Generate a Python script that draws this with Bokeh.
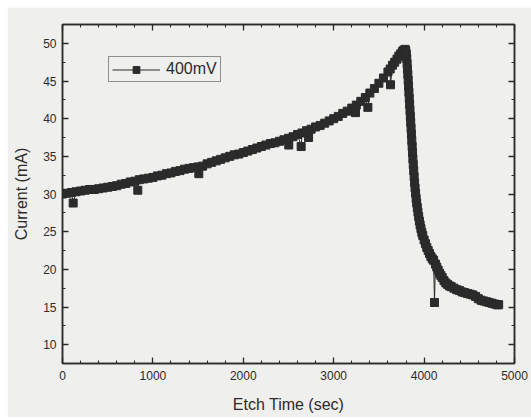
from bokeh.plotting import figure
from bokeh.models import (Range1d, SingleIntervalTicker, LinearAxis,
                          CustomJSTickFormatter, Legend, LegendItem)
from bokeh.embed import file_html
from bokeh.resources import INLINE

# ---- data (time in s, current in mA) ----
time_s = [0, 50, 100, 118, 150, 200, 250, 300, 350, 400, 450, 500, 550, 600, 650, 700, 750, 800,
          833, 850, 900, 950, 1000, 1050, 1100, 1150, 1200, 1250, 1300, 1350, 1400, 1450, 1500,
          1508, 1550, 1600, 1650, 1700, 1750, 1800, 1850, 1900, 1950, 2000, 2050, 2100, 2150,
          2200, 2250, 2300, 2350, 2400, 2450, 2500, 2503, 2550, 2600, 2640, 2650, 2700, 2722,
          2750, 2800, 2850, 2900, 2950, 3000, 3050, 3100, 3150, 3200, 3241, 3250, 3300, 3350,
          3378, 3400, 3450, 3500, 3550, 3600, 3625, 3628, 3650, 3675, 3700, 3720, 3740, 3760,
          3775, 3790, 3797, 3803, 3808, 3812, 3816, 3820, 3824, 3828, 3832, 3836, 3840, 3844,
          3848, 3852, 3856, 3860, 3864, 3868, 3872, 3876, 3880, 3885, 3890, 3895, 3900, 3906,
          3912, 3918, 3925, 3932, 3940, 3948, 3956, 3965, 3975, 3985, 4000, 4015, 4030, 4045,
          4060, 4075, 4090, 4105, 4115, 4125, 4140, 4155, 4170, 4185, 4200, 4220, 4240, 4260,
          4280, 4300, 4330, 4360, 4390, 4420, 4450, 4480, 4510, 4540, 4570, 4600, 4630, 4660,
          4690, 4720, 4750, 4780, 4810, 4825]
current_mA = [30.0, 30.1, 30.2, 28.8, 30.3, 30.4, 30.5, 30.6, 30.6, 30.7, 30.8, 30.9, 31.0, 31.1,
              31.3, 31.4, 31.6, 31.7, 30.5, 31.9, 32.0, 32.1, 32.2, 32.4, 32.5, 32.7, 32.8, 33.0,
              33.1, 33.3, 33.4, 33.5, 33.6, 32.7, 33.7, 34.0, 34.2, 34.4, 34.6, 34.8, 35.0, 35.2,
              35.3, 35.5, 35.7, 35.9, 36.1, 36.3, 36.5, 36.7, 36.8, 37.0, 37.2, 37.4, 36.5, 37.6,
              37.9, 36.3, 38.1, 38.4, 37.5, 38.6, 38.9, 39.1, 39.4, 39.7, 40.0, 40.3, 40.7, 41.0,
              41.4, 40.8, 41.8, 42.3, 42.8, 41.5, 43.4, 44.0, 44.7, 45.4, 46.2, 46.6, 44.5, 47.1,
              47.5, 47.9, 48.3, 48.6, 48.9, 49.1, 49.2, 49.0, 48.6, 48.0, 47.3, 46.6, 45.9, 45.1,
              44.3, 43.5, 42.7, 41.9, 41.1, 40.3, 39.5, 38.7, 37.9, 37.1, 36.3, 35.5, 34.7, 33.9,
              33.1, 32.3, 31.5, 30.8, 30.1, 29.4, 28.8, 28.2, 27.6, 27.0, 26.4, 25.9, 25.4, 24.9,
              24.5, 23.9, 23.4, 22.9, 22.5, 22.1, 21.7, 21.4, 21.2, 15.6, 20.7, 20.3, 19.9, 19.5,
              19.2, 18.9, 18.5, 18.2, 18.0, 17.8, 17.7, 17.5, 17.3, 17.2, 17.0, 16.9, 16.8, 16.7,
              16.6, 16.4, 16.1, 15.9, 15.8, 15.7, 15.6, 15.5, 15.4, 15.3, 15.3]
series_name = "400mV"
x_title = "Etch Time (sec)"
y_title = "Current (mA)"

PAPER = "#efefed"
INK = "#2b2b2b"
FONT = "Liberation Sans"

p = figure(width=524, height=410, output_backend="svg", toolbar_location=None,
           x_range=Range1d(0, 5000), y_range=Range1d(7.5, 52.5),
           min_border_left=55, min_border_right=17, min_border_top=17, min_border_bottom=54,
           background_fill_color=PAPER, border_fill_color=PAPER, outline_line_color=INK,
           outline_line_width=1.5)
p.margin = (7, 0, 0, 7)
p.xgrid.visible = False
p.ygrid.visible = False


def style_axis(ax, labels=True):
    ax.axis_line_color = INK
    ax.axis_line_width = 1.5
    ax.major_tick_line_color = INK
    ax.minor_tick_line_color = INK
    ax.major_tick_line_width = 1.3
    ax.minor_tick_line_width = 1.1
    ax.major_tick_in = 6
    ax.major_tick_out = 0
    ax.minor_tick_in = 3
    ax.minor_tick_out = 0
    ax.major_label_text_font = FONT
    ax.major_label_text_font_size = "12px"
    ax.major_label_text_color = INK
    ax.axis_label_text_font = FONT
    ax.axis_label_text_font_size = "16px"
    ax.axis_label_text_font_style = "normal"
    ax.axis_label_text_color = INK
    if not labels:
        ax.formatter = CustomJSTickFormatter(code="return '';")
        ax.major_label_standoff = 0


p.xaxis.ticker = SingleIntervalTicker(interval=1000, num_minor_ticks=5)
p.yaxis.ticker = SingleIntervalTicker(interval=5, num_minor_ticks=2)
style_axis(p.xaxis[0])
style_axis(p.yaxis[0])
p.xaxis.major_label_standoff = 7
p.yaxis.major_label_standoff = 6
p.xaxis.axis_label = x_title
p.yaxis.axis_label = y_title
p.xaxis.axis_label_standoff = 13
p.yaxis.axis_label_standoff = 10

top = LinearAxis(ticker=SingleIntervalTicker(interval=1000, num_minor_ticks=5))
right = LinearAxis(ticker=SingleIntervalTicker(interval=5, num_minor_ticks=2))
style_axis(top, labels=False)
style_axis(right, labels=False)
p.add_layout(top, "above")
p.add_layout(right, "right")

ln = p.line(time_s, current_mA, line_color=INK, line_width=1)
sc = p.scatter(time_s, current_mA, marker="square", size=8, fill_color=INK, line_color=INK)

legend = Legend(items=[LegendItem(label=series_name, renderers=[ln, sc])],
                location=(46, 281), padding=3, margin=0, spacing=0,
                glyph_width=48, glyph_height=17, label_height=17, label_standoff=6,
                label_text_font=FONT, label_text_font_size="16px", label_text_color=INK,
                border_line_color=INK, border_line_width=1.2,
                background_fill_color=PAPER, background_fill_alpha=1)
p.add_layout(legend)

open("out.html", "w").write(file_html(p, INLINE))
